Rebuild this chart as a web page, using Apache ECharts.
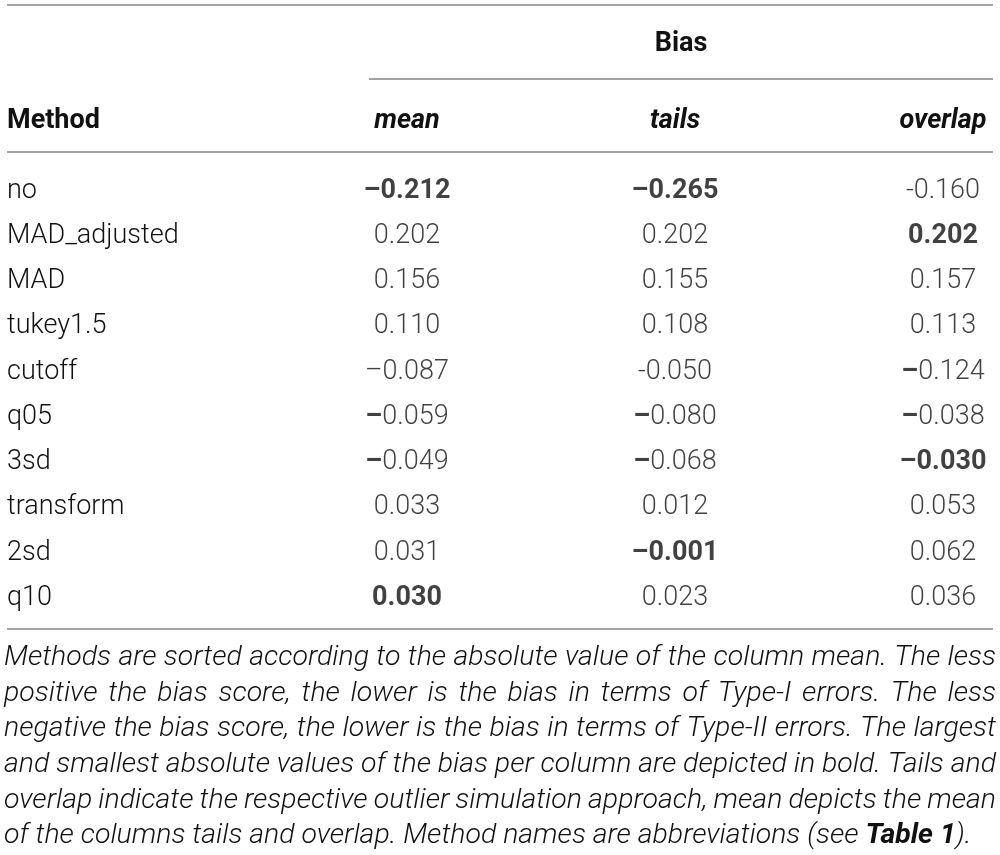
<!DOCTYPE html>
<html>
<head>
    <meta charset="utf-8" />
    <script src="https://cdn.jsdelivr.net/npm/echarts@6/dist/echarts.min.js"></script>
    <style>
        html, body { margin: 0; padding: 0; background: #fff; }
    </style>
</head>
<body>
    <div id="main" style="width: 1000px; height: 855px;"></div>
    <script type="text/javascript">
        // 表格数据
        var methods = ['no', 'MAD_adjusted', 'MAD', 'tukey1.5', 'cutoff', 'q05', '3sd', 'transform', '2sd', 'q10'];
        var columns = ['mean', 'tails', 'overlap'];
        var meanBias = [-0.212, 0.202, 0.156, 0.110, -0.087, -0.059, -0.049, 0.033, 0.031, 0.030];
        var tailsBias = [-0.265, 0.202, 0.155, 0.108, -0.050, -0.080, -0.068, 0.012, -0.001, 0.023];
        var overlapBias = [-0.160, 0.202, 0.157, 0.113, -0.124, -0.038, -0.030, 0.053, 0.062, 0.036];
        // 排版标记: B 全部加粗, b 仅负号加粗, e 普通长负号, h 连字符, n 普通
        var meanMark = ['B', 'n', 'n', 'n', 'e', 'b', 'b', 'n', 'n', 'B'];
        var tailsMark = ['B', 'n', 'n', 'n', 'h', 'b', 'b', 'n', 'B', 'n'];
        var overlapMark = ['h', 'B', 'n', 'n', 'b', 'b', 'B', 'n', 'n', 'n'];
        var groupTitle = 'Bias';
        var rowTitle = 'Method';
        var captionLines = [
            'Methods are sorted according to the absolute value of the column mean. The less',
            'positive the bias score, the lower is the bias in terms of Type-I errors. The less',
            'negative the bias score, the lower is the bias in terms of Type-II errors. The largest',
            'and smallest absolute values of the bias per column are depicted in bold. Tails and',
            'overlap indicate the respective outlier simulation approach, mean depicts the mean',
            'of the columns tails and overlap. Method names are abbreviations (see {b|Table 1}).'
        ];

        var FONT = 'Roboto, "Liberation Sans", Arial, sans-serif';
        var INK = '#111111';
        var RULE = '#a3a3a3';

        var myChart = echarts.init(document.getElementById('main'));

        var colData = [meanBias, tailsBias, overlapBias];
        var colMark = [meanMark, tailsMark, overlapMark];

        function cellText(v, mark) {
            var body = Math.abs(v).toFixed(3);
            if (v >= 0) {
                return mark === 'B' ? '{bold|' + body + '}' : '{reg|' + body + '}';
            }
            if (mark === 'B') return '{bold|\u2013' + body + '}';
            if (mark === 'b') return '{bold|\u2013}{reg|' + body + '}';
            if (mark === 'h') return '{reg|-' + body + '}';
            return '{reg|\u2013' + body + '}';
        }

        var cells = [];
        colData.forEach(function (arr, c) {
            arr.forEach(function (v, r) {
                cells.push({
                    value: [c, r, v],
                    label: { formatter: cellText(v, colMark[c][r]) }
                });
            });
        });

        // 表格网格位置
        var gridLeft = 407, gridRight = 57, gridTop = 191, gridBottom = 257;
        var ruleLeft = 7, ruleRight = 993;
        var capLeft = 4, capRight = 996;

        // 注释段落两端对齐, 字号按第一行撑满计算
        var ctx = document.createElement('canvas').getContext('2d');
        ctx.font = 'italic 300 26px ' + FONT;
        var capSize = Math.min(30, 26 * (capRight - capLeft - 6) / ctx.measureText(captionLines[0]).width);
        var capFont = 'italic 300 ' + capSize.toFixed(2) + 'px ' + FONT;
        var capBold = 'italic bold ' + capSize.toFixed(2) + 'px ' + FONT;
        var capTop = 658, capStep = 35.6;
        var graphics = [];

        captionLines.forEach(function (line, i) {
            var y = capTop + capStep * i;
            if (i === captionLines.length - 1) {
                graphics.push({
                    type: 'text', x: capLeft, y: y,
                    style: {
                        text: line,
                        font: capFont,
                        fill: INK,
                        verticalAlign: 'middle',
                        rich: { b: { font: capBold, fill: INK } }
                    }
                });
                return;
            }
            var words = line.split(' ');
            ctx.font = capFont;
            var total = 0;
            var widths = words.map(function (w) { var m = ctx.measureText(w).width; total += m; return m; });
            var gap = (capRight - capLeft - total) / (words.length - 1);
            var x = capLeft;
            words.forEach(function (w, k) {
                graphics.push({
                    type: 'text', x: x, y: y,
                    style: { text: w, font: capFont, fill: INK, verticalAlign: 'middle' }
                });
                x += widths[k] + gap;
            });
        });

        // 表格横线
        [[ruleLeft, 5, ruleRight], [369, 79, ruleRight], [ruleLeft, 152, ruleRight], [ruleLeft, 629, ruleRight]].forEach(function (l) {
            graphics.push({
                type: 'line',
                shape: { x1: l[0], y1: l[1], x2: l[2], y2: l[1] },
                style: { stroke: RULE, lineWidth: 2 }
            });
        });

        graphics.push({
            type: 'text', x: (369 + ruleRight) / 2, y: 44,
            style: { text: groupTitle, font: 'bold 27px ' + FONT, fill: INK, align: 'center', verticalAlign: 'middle' }
        });
        graphics.push({
            type: 'text', x: ruleLeft, y: 121,
            style: { text: rowTitle, font: 'bold 27px ' + FONT, fill: INK, align: 'left', verticalAlign: 'middle' }
        });

        var option = {
            animation: false,
            backgroundColor: '#ffffff',
            grid: { left: gridLeft, right: gridRight, top: gridTop, bottom: gridBottom },
            xAxis: {
                type: 'category',
                position: 'top',
                boundaryGap: false,
                data: columns,
                axisLine: { show: false },
                axisTick: { show: false },
                splitLine: { show: false },
                axisLabel: {
                    margin: 70,
                    verticalAlign: 'middle',
                    fontFamily: FONT,
                    fontSize: 27,
                    fontWeight: 'bold',
                    fontStyle: 'italic',
                    color: INK
                }
            },
            yAxis: {
                type: 'category',
                inverse: true,
                boundaryGap: false,
                data: methods,
                axisLine: { show: false },
                axisTick: { show: false },
                splitLine: { show: false },
                axisLabel: {
                    align: 'left',
                    margin: gridLeft - ruleLeft,
                    fontFamily: FONT,
                    fontSize: 27,
                    fontWeight: 300,
                    color: INK
                }
            },
            series: [{
                type: 'scatter',
                symbolSize: 0,
                silent: true,
                data: cells,
                label: {
                    show: true,
                    position: 'inside',
                    color: INK,
                    rich: {
                        reg: { fontFamily: FONT, fontSize: 27, fontWeight: 300, color: INK },
                        bold: { fontFamily: FONT, fontSize: 27, fontWeight: 'bold', color: INK }
                    }
                }
            }],
            graphic: graphics
        };

        myChart.setOption(option);
    </script>
</body>
</html>
